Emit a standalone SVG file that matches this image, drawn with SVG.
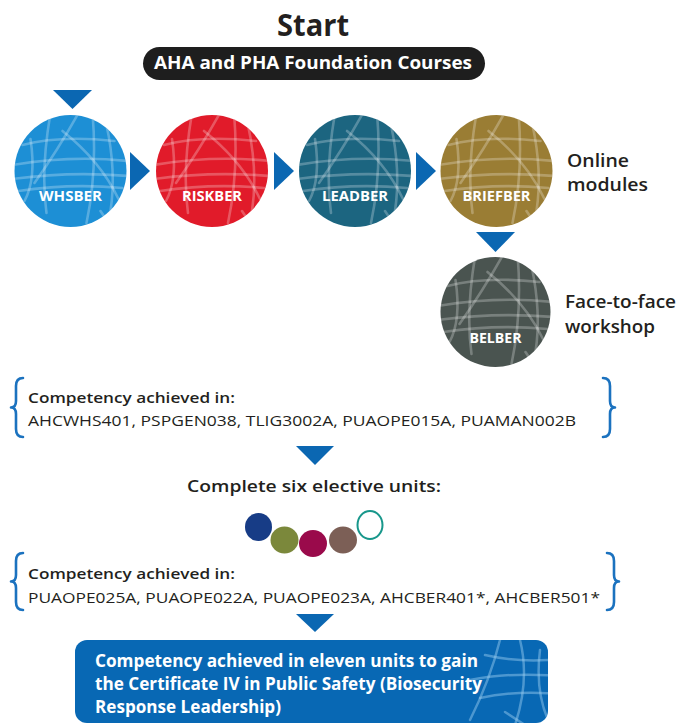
<svg xmlns="http://www.w3.org/2000/svg" xmlns:xlink="http://www.w3.org/1999/xlink" width="678" height="725" viewBox="0 0 678 725">
<style>
text{font-family:"Open Sans","Liberation Sans",sans-serif;fill:#231f20}
.b{font-weight:700}
.sb{font-weight:600}
.lbl{font-weight:700;fill:#fff;font-size:13.5px;text-anchor:middle}
.tri{fill:#0b67b2}
.brace{fill:none;stroke:#1b72bf;stroke-width:2.6;stroke-linecap:round;stroke-linejoin:round}
.tex{fill:none;stroke:#fff;stroke-opacity:0.26;stroke-width:2.6;stroke-linecap:round}
.wt{fill:#fff;font-weight:700}
</style>
<defs>
<clipPath id="cc"><circle r="56"/></clipPath>
<g id="tex" class="tex">
<path d="M-58,-6 Q0,-16 58,-10"/>
<path d="M-58,8 Q0,0 58,5"/>
<path d="M-52,20 Q0,12 52,17"/>
<path d="M-48,-26 Q-10,-36 44,-30"/>
<path d="M-20,-58 Q-30,0 -24,42"/>
<path d="M8,-58 Q-12,-22 -36,12"/>
<path d="M22,-58 Q27,0 16,52"/>
<path d="M36,-46 Q46,0 40,40"/>
<path d="M-40,-32 Q-34,8 -46,30"/>
<path d="M-8,-40 Q30,-10 48,28"/>
<path d="M30,40 L40,55" />
</g>
<clipPath id="bc"><rect x="75" y="640" width="473" height="83" rx="12"/></clipPath>
</defs>

<text x="313" y="36" class="b" font-size="30" text-anchor="middle" textLength="72" lengthAdjust="spacingAndGlyphs">Start</text>

<g id="foundation">
<rect x="143" y="47" width="342" height="33" rx="16.5" fill="#1e1e1e"/>
<text x="313" y="69" class="wt" font-size="17" text-anchor="middle" textLength="318" lengthAdjust="spacingAndGlyphs">AHA and PHA Foundation Courses</text>
</g>

<g id="connectors">
<polygon class="tri" points="53,90 92,90 72.5,109"/>
<polygon class="tri" points="130,152 130,190 150,171"/>
<polygon class="tri" points="274,152 274,190 294,171"/>
<polygon class="tri" points="416,152 416,190 436,171"/>
<polygon class="tri" points="476,232 515,232 495.5,252"/>
<polygon class="tri" points="296,446 334,446 315,465"/>
<polygon class="tri" points="296,614 334,614 315,632"/>
</g>

<g id="whsber" transform="translate(70.5,171)">
<circle r="56" fill="#1d8fd5"/>
<use xlink:href="#tex" clip-path="url(#cc)"/>
<text y="30" class="lbl" textLength="63" lengthAdjust="spacingAndGlyphs">WHSBER</text>
</g>
<g id="riskber" transform="translate(212,171)">
<circle r="56" fill="#e11b2a"/>
<use xlink:href="#tex" clip-path="url(#cc)"/>
<text y="30" class="lbl" textLength="60" lengthAdjust="spacingAndGlyphs">RISKBER</text>
</g>
<g id="leadber" transform="translate(355,171)">
<circle r="56" fill="#1c6580"/>
<use xlink:href="#tex" clip-path="url(#cc)"/>
<text y="30" class="lbl" textLength="66" lengthAdjust="spacingAndGlyphs">LEADBER</text>
</g>
<g id="briefber" transform="translate(496.5,171)">
<circle r="56" fill="#9a7d34"/>
<use xlink:href="#tex" clip-path="url(#cc)"/>
<text y="30" class="lbl" textLength="68" lengthAdjust="spacingAndGlyphs">BRIEFBER</text>
</g>
<g id="online">
<text x="567" y="167" class="sb" font-size="18.5" textLength="62" lengthAdjust="spacingAndGlyphs">Online</text>
<text x="567" y="191" class="sb" font-size="18.5" textLength="81" lengthAdjust="spacingAndGlyphs">modules</text>
</g>

<g id="belber" transform="translate(495.5,312)">
<circle r="55" fill="#4a5450"/>
<use xlink:href="#tex" clip-path="url(#cc)"/>
<text y="31" class="lbl" textLength="52" lengthAdjust="spacingAndGlyphs">BELBER</text>
</g>
<g id="facetoface">
<text x="565" y="308" class="sb" font-size="18" textLength="111" lengthAdjust="spacingAndGlyphs">Face-to-face</text>
<text x="565" y="333" class="sb" font-size="18" textLength="90" lengthAdjust="spacingAndGlyphs">workshop</text>
</g>

<g id="competency1">
<path class="brace" d="M23,378 Q16,378 16,386 L16,401 Q16,407.5 11,407.5 Q16,407.5 16,414 L16,429 Q16,437 23,437"/>
<path class="brace" d="M603,378 Q610,378 610,386 L610,401 Q610,407.5 615,407.5 Q610,407.5 610,414 L610,429 Q610,437 603,437"/>
<text x="28" y="403" class="sb" font-size="15" textLength="207" lengthAdjust="spacingAndGlyphs">Competency achieved in:</text>
<text x="28" y="426" font-size="15" textLength="548" lengthAdjust="spacingAndGlyphs">AHCWHS401, PSPGEN038, TLIG3002A, PUAOPE015A, PUAMAN002B</text>
</g>

<g id="electives">
<text x="314" y="492" class="sb" font-size="17" text-anchor="middle" textLength="254" lengthAdjust="spacingAndGlyphs">Complete six elective units:</text>
<ellipse cx="258.5" cy="527" rx="13.5" ry="14" fill="#173c86"/>
<ellipse cx="284.5" cy="540" rx="14" ry="13.5" fill="#7b883b"/>
<ellipse cx="313" cy="543.5" rx="14" ry="13.5" fill="#9a0a4b"/>
<ellipse cx="343" cy="540" rx="14" ry="13.5" fill="#7c5f56"/>
<ellipse cx="370" cy="525" rx="12.5" ry="14" fill="#fff" stroke="#18978b" stroke-width="2"/>
</g>

<g id="competency2">
<path class="brace" d="M23,553 Q16,553 16,561 L16,575 Q16,581.5 11,581.5 Q16,581.5 16,588 L16,602 Q16,610 23,610"/>
<path class="brace" d="M607,553 Q614,553 614,561 L614,575 Q614,581.5 619,581.5 Q614,581.5 614,588 L614,602 Q614,610 607,610"/>
<text x="28" y="579" class="sb" font-size="15" textLength="207" lengthAdjust="spacingAndGlyphs">Competency achieved in:</text>
<text x="28" y="603" font-size="15" textLength="572" lengthAdjust="spacingAndGlyphs">PUAOPE025A, PUAOPE022A, PUAOPE023A, AHCBER401*, AHCBER501*</text>
</g>

<g id="certificate">
<rect x="75" y="640" width="473" height="83" rx="12" fill="#0868b4"/>
<g clip-path="url(#bc)" fill="none" stroke="#9fd0f2" stroke-opacity="0.45" stroke-width="2.5" stroke-linecap="round">
<path d="M470,680 Q510,672 560,676"/>
<path d="M480,698 Q515,690 560,694"/>
<path d="M500,640 Q490,680 470,720"/>
<path d="M520,640 Q530,680 515,725"/>
<path d="M540,650 Q535,690 548,720"/>
<path d="M485,655 Q515,662 548,660"/>
<path d="M505,712 L525,725"/>
</g>
<text x="95" y="667" class="wt" font-size="17" textLength="383" lengthAdjust="spacingAndGlyphs">Competency achieved in eleven units to gain</text>
<text x="95" y="690" class="wt" font-size="17" textLength="387" lengthAdjust="spacingAndGlyphs">the Certificate IV in Public Safety (Biosecurity</text>
<text x="95" y="713" class="wt" font-size="17" textLength="186" lengthAdjust="spacingAndGlyphs">Response Leadership)</text>
</g>
</svg>
